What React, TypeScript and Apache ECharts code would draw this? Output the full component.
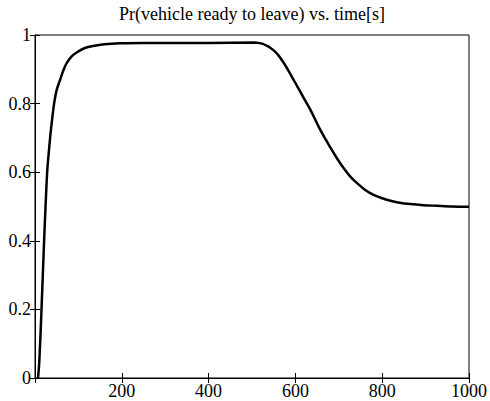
import React, { useEffect, useRef } from "react";
import * as echarts from "echarts";

const titleText = "Pr(vehicle ready to leave) vs. time[s]";
const timeValues = [7, 10, 15, 21, 28, 33, 37, 44, 50, 58, 65, 73, 84, 96, 115, 134, 160, 196, 250, 300, 400, 505, 515, 525, 535, 542, 550, 560, 573, 588, 604, 619, 634, 645, 657, 669, 681, 696, 711, 726, 742, 760, 780, 800, 819, 840, 865, 895, 927, 960, 1000];
const probValues = [0, 0.05, 0.2, 0.4, 0.6, 0.675, 0.727, 0.8, 0.84, 0.87, 0.896, 0.918, 0.937, 0.949, 0.962, 0.968, 0.973, 0.976, 0.977, 0.977, 0.977, 0.978, 0.977, 0.974, 0.968, 0.963, 0.955, 0.942, 0.919, 0.887, 0.851, 0.817, 0.783, 0.755, 0.724, 0.697, 0.671, 0.640, 0.612, 0.588, 0.568, 0.549, 0.534, 0.524, 0.517, 0.511, 0.507, 0.504, 0.502, 0.500, 0.499];

const FONT = "Liberation Serif";

export default function App() {
  const ref = useRef<HTMLDivElement>(null);
  useEffect(() => {
    if (!ref.current) return;
    const chart = echarts.init(ref.current, null, { renderer: "svg" });
    const data = timeValues.map((t, i) => [t, probValues[i]]);
    const tick = { show: true, inside: true, length: 5, lineStyle: { color: "#000", width: 1 } };
    chart.setOption({
      animation: false,
      backgroundColor: "#fff",
      textStyle: { fontFamily: FONT, color: "#000" },
      title: {
        text: titleText,
        left: 252,
        textAlign: "center",
        top: 5,
        padding: 0,
        textStyle: { fontFamily: FONT, fontSize: 18, fontWeight: "normal", color: "#000" },
      },
      grid: {
        left: 35,
        right: 21,
        top: 35,
        bottom: 23,
        show: true,
        borderColor: "#000",
        borderWidth: 1,
        backgroundColor: "#fff",
      },
      xAxis: [
        {
          type: "value",
          min: 0,
          max: 1000,
          interval: 200,
          position: "bottom",
          axisLine: { show: true, lineStyle: { color: "#000", width: 1 } },
          axisTick: tick,
          splitLine: { show: false },
          axisLabel: {
            showMinLabel: false,
            color: "#000",
            fontFamily: FONT,
            fontSize: 18,
            margin: 4,
            formatter: (v: number) => String(v),
          },
        },
        {
          type: "value",
          min: 0,
          max: 1000,
          interval: 200,
          position: "top",
          axisLine: { show: true, lineStyle: { color: "#000", width: 1 } },
          axisTick: tick,
          splitLine: { show: false },
          axisLabel: { show: false },
        },
      ],
      yAxis: [
        {
          type: "value",
          min: 0,
          max: 1,
          interval: 0.2,
          position: "left",
          axisLine: { show: true, lineStyle: { color: "#000", width: 1 } },
          axisTick: tick,
          splitLine: { show: false },
          axisLabel: {
            color: "#000",
            fontFamily: FONT,
            fontSize: 18,
            margin: 4,
            formatter: (v: number) => String(Math.round(v * 10) / 10),
          },
        },
        {
          type: "value",
          min: 0,
          max: 1,
          interval: 0.2,
          position: "right",
          axisLine: { show: true, lineStyle: { color: "#000", width: 1 } },
          axisTick: tick,
          splitLine: { show: false },
          axisLabel: { show: false },
        },
      ],
      series: [
        {
          type: "line",
          data,
          xAxisIndex: 0,
          yAxisIndex: 0,
          showSymbol: false,
          smooth: 0.3,
          lineStyle: { color: "#000", width: 2.5 },
        },
      ],
    });
    return () => chart.dispose();
  }, []);
  return <div ref={ref} style={{ width: 490, height: 401, position: "absolute", left: 0, top: 0 }} />;
}
